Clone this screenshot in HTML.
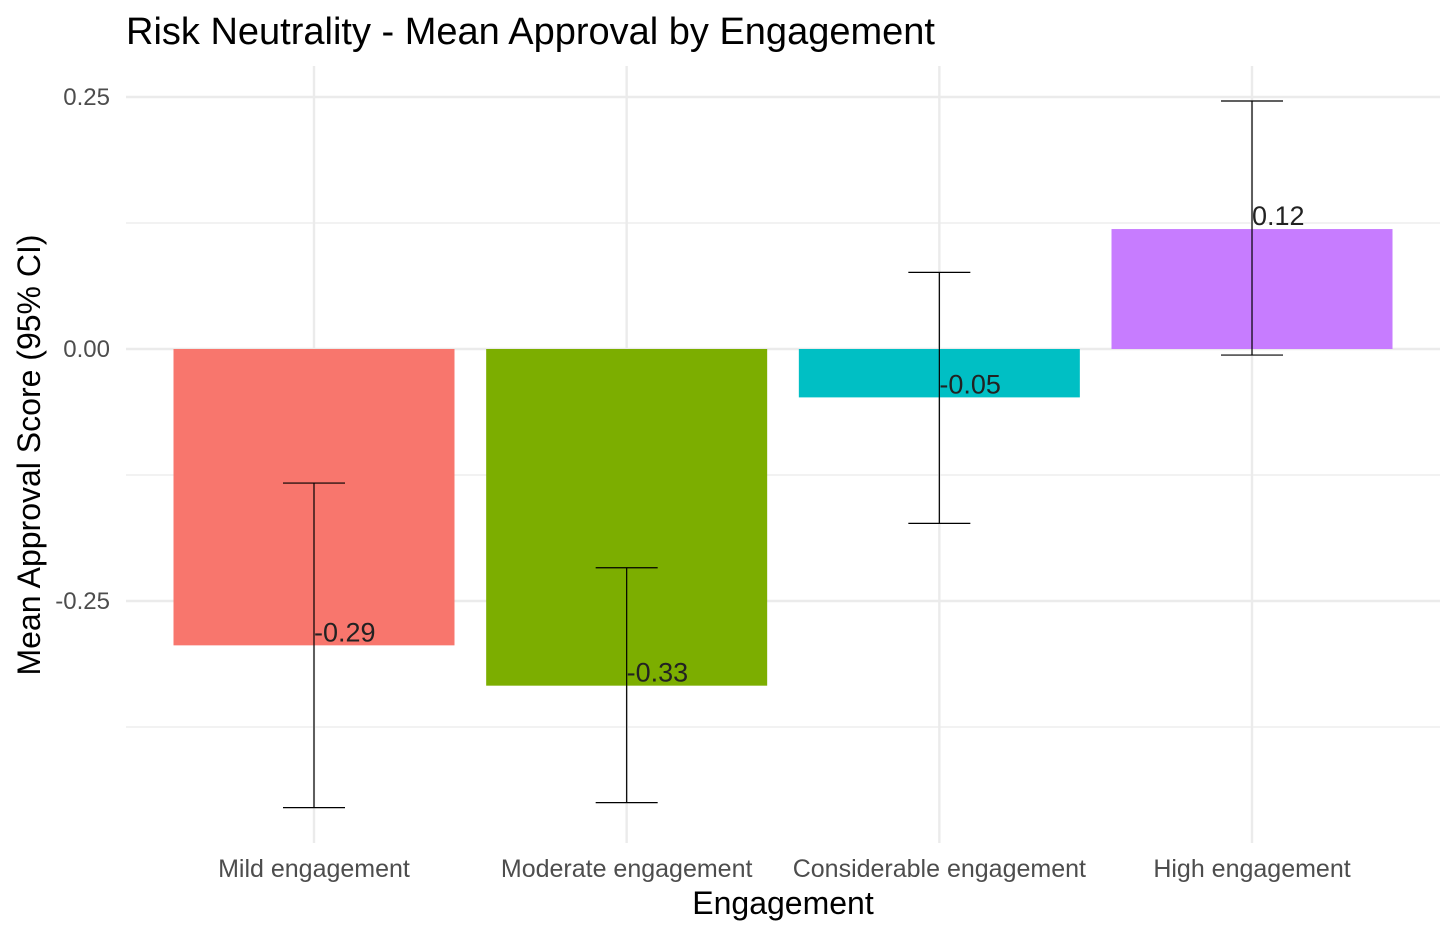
<!DOCTYPE html>
<html><head><meta charset="utf-8"><style>
html,body{margin:0;padding:0;background:#fff;}
svg{display:block;font-family:"Liberation Sans",Arial,sans-serif;}
</style></head><body>
<svg id="chart" width="1456" height="936">
<text x="126" y="44" font-size="38" fill="#000">Risk Neutrality - Mean Approval by Engagement</text>
<g id="grid"></g><g id="bars"></g>
<text x="783" y="914" font-size="32" text-anchor="middle" fill="#000">Engagement</text>
<text transform="translate(40,455) rotate(-90)" font-size="32" text-anchor="middle" fill="#000">Mean Approval Score (95% CI)</text>
</svg>
<script>
const categories=["Mild engagement","Moderate engagement","Considerable engagement","High engagement"];
const values=[-0.294,-0.334,-0.048,0.119];
const lower=[-0.455,-0.450,-0.173,-0.006];
const upper=[-0.133,-0.217,0.076,0.246];
const labels=["-0.29","-0.33","-0.05","0.12"];
const colors=["#F8766D","#7CAE00","#00BFC4","#C77CFF"];
const yTicks=[0.25,0,-0.25];
const yTickLabels=["0.25","0.00","-0.25"];
const yMinor=[0.125,-0.125,-0.375];
const NS="http://www.w3.org/2000/svg";
const yS=v=>349-v*1008;
const xS=i=>314+i*312.67;
const bw=281, panelTop=66, panelBot=843, panelLeft=126, panelRight=1440;
const grid=document.getElementById('grid'), bars=document.getElementById('bars');
function mk(tag,attrs,parent){const e=document.createElementNS(NS,tag);for(const k in attrs)e.setAttribute(k,attrs[k]);parent.appendChild(e);return e;}
yMinor.forEach(v=>{const l=mk('line',{x1:panelLeft,x2:panelRight,y1:yS(v),y2:yS(v),stroke:'#ebebeb','stroke-width':1.2},grid);

});
yTicks.forEach((v,i)=>{const l=mk('line',{x1:panelLeft,x2:panelRight,y1:yS(v),y2:yS(v),stroke:'#ebebeb','stroke-width':2.4},grid);


const t=mk('text',{x:110,y:yS(v)+8,'font-size':24,'text-anchor':'end',fill:'#4d4d4d'},grid);t.textContent=yTickLabels[i];

});
categories.forEach((c,i)=>{const l=mk('line',{x1:xS(i),x2:xS(i),y1:panelTop,y2:panelBot,stroke:'#ebebeb','stroke-width':2.4},grid);


const t=mk('text',{x:xS(i),y:877,'font-size':25,'text-anchor':'middle',fill:'#4d4d4d'},grid);t.textContent=c;

});
categories.forEach((c,i)=>{const v=values[i];
const r=mk('rect',{x:xS(i)-bw/2,y:Math.min(yS(v),yS(0)),width:bw,height:Math.abs(yS(v)-yS(0)),fill:colors[i]},bars);


const g=mk('g',{stroke:'#000','stroke-width':1.2},bars);


mk('line',{x1:xS(i),x2:xS(i),y1:yS(upper[i]),y2:yS(lower[i])},g);
mk('line',{x1:xS(i)-31,x2:xS(i)+31,y1:yS(upper[i]),y2:yS(upper[i])},g);
mk('line',{x1:xS(i)-31,x2:xS(i)+31,y1:yS(lower[i]),y2:yS(lower[i])},g);
const t=mk('text',{x:xS(i),y:yS(v)-4,'font-size':27,fill:'#222'},bars);t.textContent=labels[i];

});
</script>
</body></html>
